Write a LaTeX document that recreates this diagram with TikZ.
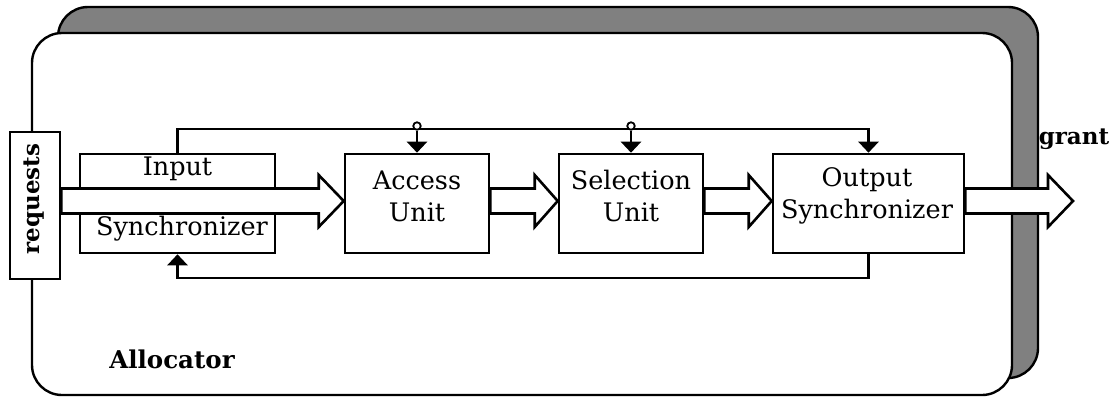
\documentclass[tikz,border=0pt]{standalone}
\usepackage{fontspec}
\setmainfont{DejaVu Serif}
\usetikzlibrary{arrows.meta,calc}

% hollow block arrow from #2 to the tip #3 (same height as #2), head length #1
\newcommand\hollowarrow[3][25pt]{%
  \draw[bigarrow] let \p1=(#2), \p2=(#3) in
    (\x1,\y1+12.5pt) -- (\x2-#1,\y1+12.5pt) -- (\x2-#1,\y1+26pt) -- (\x2,\y1)
    -- (\x2-#1,\y1-26pt) -- (\x2-#1,\y1-12.5pt) -- (\x1,\y1-12.5pt) -- cycle;}

\begin{document}
\begin{tikzpicture}[x=1pt,y=-1pt,
  every node/.style={inner sep=0pt},
  frame/.style={draw, line width=2.4pt, rounded corners=30pt},
  unitbox/.style={draw, line width=2.6pt, fill=white, minimum height=99pt},
  txt/.style={align=center, font=\fontsize{25.5}{32}\selectfont},
  boldtxt/.style={font=\fontsize{23}{27}\selectfont\bfseries},
  bigarrow/.style={draw, line width=2.6pt, fill=white, line join=miter},
  wire/.style={draw, line width=2.6pt},
  tip/.style={-{Triangle[width=20pt,length=11pt]}},
  tapdot/.style={circle, draw, line width=1.8pt, fill=white, minimum size=7.5pt}]

\useasboundingbox (0,0) rectangle (1115,397);

% allocator frame with its offset shadow
\path[frame, fill=black!50] (58,7) rectangle (1038,378);
\path[frame, fill=white] (32,33) rectangle (1012,395);
\node[boldtxt, font=\fontsize{24.5}{28}\selectfont\bfseries] (alloc) at (172,359) {Allocator};

% functional units
\node[unitbox, minimum width=195pt] (insync) at (177.5,203.5) {};
\node[unitbox, minimum width=144pt] (access) at (417,203.5) {};
\node[unitbox, minimum width=144pt] (select) at (631,203.5) {};
\node[unitbox, minimum width=191pt] (outsync) at (868.5,203.5) {};

\node[txt] (insyncA) at (177.5,169) {Input};
\node[txt] (insyncB) at (182,229) {Synchronizer};
\node[txt] (accessT) at (417,196) {Access\\Unit};
\node[txt] (selectT) at (631,196) {Selection\\Unit};
\node[txt] (outsyncT) at (867,196) {Output\\Synchronizer};

% request input
\coordinate (ay) at (0,201);
\coordinate (gtip) at (1073,201);
\node[draw, line width=2.6pt, fill=white, rotate=90, minimum width=147pt,
      minimum height=50pt] (req) at (35,205.5) {};
\node[boldtxt, rotate=90] (reqT) at (34,199) {requests};

% data path
\hollowarrow{req.south |- ay}{access.west |- ay}
\hollowarrow[23pt]{access.east |- ay}{select.west |- ay}
\hollowarrow[23pt]{select.east |- ay}{outsync.west |- ay}
\hollowarrow{outsync.east |- ay}{gtip}
\node[boldtxt] (grant) at (1074,139) {grant};

% control bus and feedback
\coordinate (bus) at (0,129);
\coordinate (fb) at (0,278);
\draw[wire, tip] (insync.north) |- (outsync.north |- bus) -- (outsync.north);
\node[tapdot] (tapA) at (access.north |- 0,126) {};
\node[tapdot] (tapS) at (select.north |- 0,126) {};
\draw[wire, tip] (tapA) -- (access.north);
\draw[wire, tip] (tapS) -- (select.north);
\draw[wire, tip] (outsync.south) |- (insync.south |- fb) -- (insync.south);

\end{tikzpicture}
\end{document}
